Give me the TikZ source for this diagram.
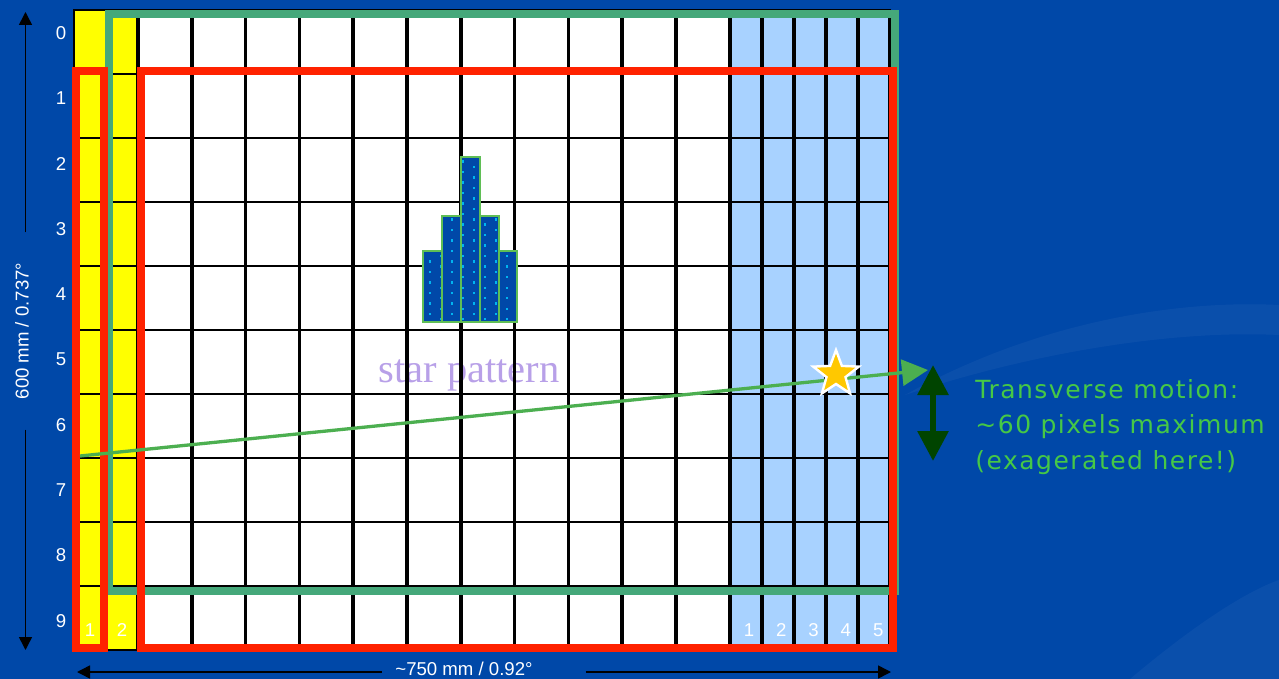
\documentclass[tikz,border=0pt]{standalone}
\usepackage{fontspec}
\setmainfont{Liberation Sans}
\newfontfamily\starfont{Liberation Serif}
\newfontfamily\motionfont[LetterSpace=6]{DejaVu Sans}
\usetikzlibrary{arrows.meta, positioning, shapes.geometric}
\definecolor{slideblue}{RGB}{0,72,168}
\definecolor{gridyellow}{RGB}{255,255,0}
\definecolor{gridblue}{RGB}{168,210,255}
\definecolor{boxred}{RGB}{255,34,0}
\definecolor{boxgreen}{RGB}{69,168,122}
\definecolor{motiongreen}{RGB}{76,175,80}
\definecolor{motiontext}{RGB}{70,200,70}
\definecolor{darkmotion}{RGB}{0,68,0}
\definecolor{starlabel}{RGB}{184,160,232}
\definecolor{dotcyan}{RGB}{0,180,240}
\definecolor{barline}{RGB}{95,190,85}
\definecolor{starfill}{RGB}{255,200,0}

\begin{document}
\begin{tikzpicture}[
    x=0.5pt, y=-0.5pt,
    lbl/.style={text=white,font=\fontsize{9.3}{11}\selectfont,inner sep=0pt},
    dimarr/.style={-{Triangle[length=6.5pt,width=6.5pt]},line width=0.75pt,black},
    vline/.style={line width=1.8pt,black},
    hline/.style={line width=0.9pt,black},
    frame/.style={line width=4pt},
    motion/.style={-{Triangle[length=13pt,width=13pt]},line width=1.65pt,motiongreen},
    updown/.style={{Triangle[length=15pt,width=15pt]}-{Triangle[length=15pt,width=15pt]},
                   line width=3pt,darkmotion},
    motiontxt/.style={text=motiontext,align=left,inner sep=0pt,
                      font=\motionfont\fontsize{12.5}{17.75}\selectfont}
]
  % Slide background
  \fill[slideblue] (0,0) rectangle (1279,679);
  \useasboundingbox (0,0) rectangle (1279,679);
  \fill[white,opacity=0.04] (905,395) .. controls (1040,320) and (1180,300) .. (1279,305)
       -- (1279,335) .. controls (1180,330) and (1040,350) .. cycle;
  \fill[white,opacity=0.04] (1130,679) .. controls (1200,620) and (1250,590) .. (1279,580)
       -- (1279,679) -- cycle;

  % Pixel columns
  \fill[white] (74,10) rectangle (890,650);
  \fill[gridyellow] (74,10) rectangle (138,650);
  \fill[gridblue] (730,10) rectangle (890,650);

  \node[font=\starfont\fontsize{20.25}{24}\selectfont,text=starlabel,anchor=base west,inner sep=0pt]
       (starlbl) at (378,382) {star pattern};

  % Grid lines
  \foreach \r in {1,...,9}
    \draw[hline] (74,10+64*\r) -- (890,10+64*\r);
  \draw[vline,line width=1pt] (106,10) -- (106,650);
  \foreach \c in {0,...,11}
    \draw[vline] (138+53.8*\c,10) -- (138+53.8*\c,650);
  \foreach \c in {1,...,5}
    \draw[vline] (730+32*\c,10) -- (730+32*\c,650);
  \draw[line width=0.8pt] (74,10) rectangle (890,650);

  % Star image histogram
  \foreach \xa/\xb/\yt in {423/442/251, 442/461/216, 461/480/157, 480/499/216, 499/517/251}
    \fill[slideblue] (\xa,\yt) rectangle (\xb,322);
  \begin{scope}
    \clip (423,322) |- (442,251) |- (461,216) |- (480,157) |- (499,216) |- (517,251) -- (517,322) -- cycle;
    \foreach \i in {0,...,8}{
      \pgfmathsetmacro\dotshift{5.25-5.25*mod(\i,2)}
      \foreach \j in {0,...,16}
        \fill[dotcyan] (428.8+11*\i,150+10.5*\j+\dotshift) rectangle ++(2.4,2.4);
    }
  \end{scope}
  \foreach \xa/\xb/\yt in {423/442/251, 442/461/216, 461/480/157, 480/499/216, 499/517/251}
    \draw[barline,line width=1.1pt] (\xa,\yt) rectangle (\xb,322);

  % Frames
  \draw[frame,boxgreen] (109,14) rectangle (895,591);
  \draw[frame,boxred] (76,71) rectangle (104,648);
  \draw[frame,boxred] (141,71) rectangle (893,648);

  % Row and column numbers
  \foreach \r in {0,...,9}
    \node[lbl] (row\r) at (61,33+65.3*\r) {\r};
  \node[lbl] (ycol1) at (90,630) {1};
  \node[lbl] (ycol2) at (122,630) {2};
  \foreach \c in {1,...,5}
    \node[lbl] (bcol\c) at (716.7+32.3*\c,630) {\c};

  % Field size
  \coordinate (vtop) at (25.5,12);
  \coordinate (vbot) at (25.5,650);
  \node[lbl,rotate=90,inner xsep=15pt] (vdim) at (22,331) {600 mm / 0.737°};
  \draw[dimarr] (vdim.east -| vtop) -- (vtop);
  \draw[dimarr] (vdim.west -| vbot) -- (vbot);

  \coordinate (hleft) at (77,672);
  \coordinate (hright) at (891,672);
  \node[lbl,inner xsep=6.75pt] (hdim) at (464,669) {\textasciitilde750 mm / 0.92°};
  \draw[dimarr] (hdim.west |- hleft) -- (hleft);
  \draw[dimarr] ([xshift=19.5pt]hdim.east |- hright) -- (hright);

  % Drift of the star
  \coordinate (mstart) at (80,456);
  \coordinate (mend) at (928,370);
  \draw[motion] (mstart) -- (mend);
  \node[star,star points=5,star point ratio=2.4,fill=starfill,draw=white,line width=1.2pt,
        minimum size=24pt,inner sep=0pt] (starpt) at (836,374) {};

  \coordinate (dtop) at (933,365);
  \coordinate (dbot) at (933,461);
  \draw[updown] (dtop) -- (dbot);
  \node[motiontxt,anchor=west] (motion) at (975,427)
       {Transverse motion:\\\textasciitilde60 pixels maximum\\(exagerated here!)};
\end{tikzpicture}
\end{document}
